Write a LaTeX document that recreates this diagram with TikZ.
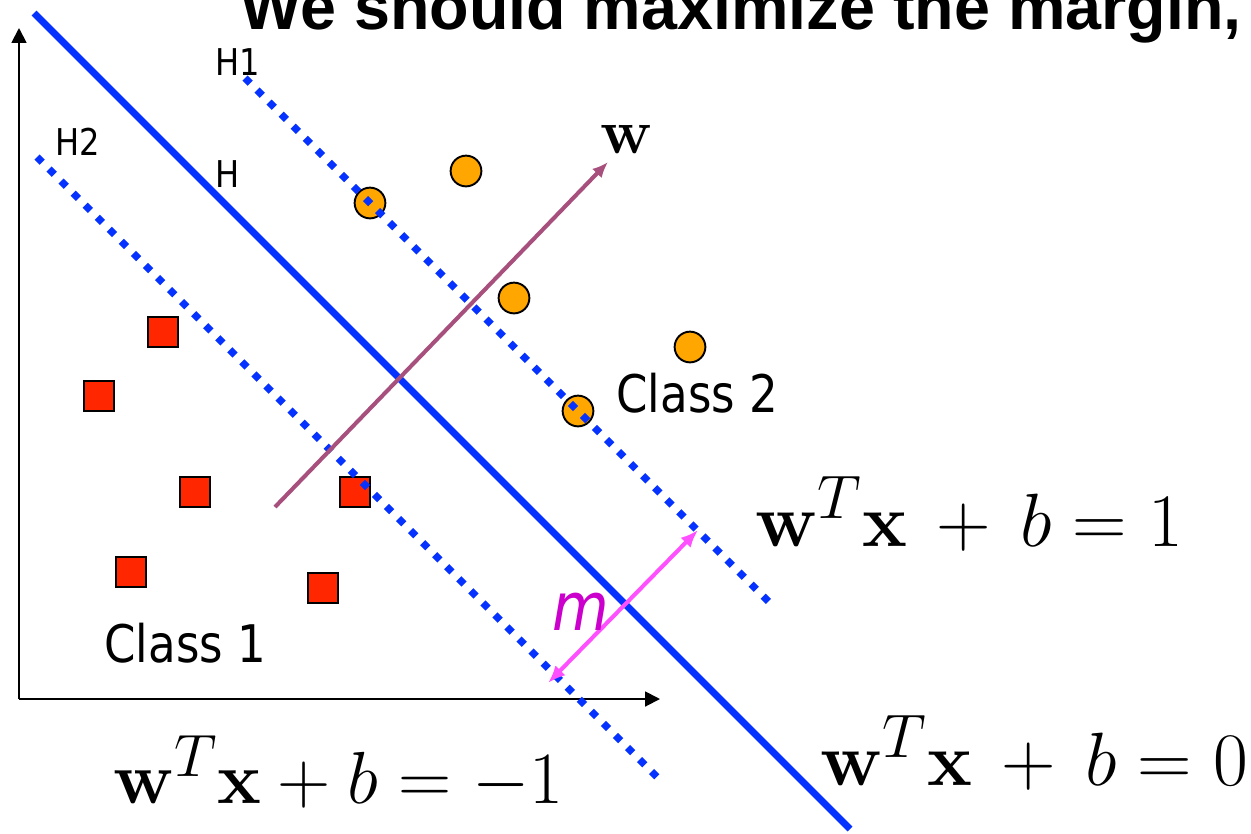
\RequirePackage{fix-cm}
\documentclass[tikz,border=0pt]{standalone}
\usepackage[no-math]{fontspec}
\setmainfont{DejaVu Sans}[FakeStretch=0.87]
\newfontfamily\titlefont{Liberation Sans}
\usetikzlibrary{arrows.meta}
\DeclareMathSizes{42}{42}{34}{24}
\DeclareMathSizes{43}{43}{35}{25}

\definecolor{hblue}{RGB}{5,50,255}
\definecolor{wpurple}{RGB}{168,80,125}
\definecolor{mpink}{RGB}{255,80,255}
\definecolor{mlabel}{RGB}{204,0,204}
\definecolor{corange}{RGB}{255,166,0}
\definecolor{sred}{RGB}{255,38,0}

\tikzset{
  lbl/.style={anchor=base west,inner sep=0pt},
  classtwo/.style={circle,draw=black,line width=1.1pt,fill=corange,minimum size=17.5pt,inner sep=0pt},
  classone/.style={rectangle,draw=black,line width=1.1pt,fill=sred,minimum size=17pt,inner sep=0pt},
  dotline/.style={hblue,line width=4.2pt,dash pattern=on 4.2pt off 5.5pt}
}

\begin{document}
\begin{tikzpicture}[x=0.02cm,y=-0.02cm]
\useasboundingbox (0,0) rectangle (1251,833);
\clip (0,0) rectangle (1251,833);

% title (cut at the top)
\node[lbl] (title) at (240,29) {\titlefont\bfseries\fontsize{36.8}{40}\selectfont We should maximize the margin,};

% axes
\coordinate (o) at (19,699);
\coordinate (xend) at (660,699);
\coordinate (yend) at (19,28);
\draw[line width=1.1pt,-{Triangle[length=8.5pt,width=8.5pt]}] (o) -- (xend);
\draw[line width=1.1pt,-{Triangle[length=8.5pt,width=8.5pt]}] (o) -- (yend);

% class 1 squares
\foreach \x/\y [count=\i] in {163/332,99/396,195/492,355/492,131/572,323/588}{
    \node[classone] (s\i) at (\x,\y) {};
}

% class 2 circles
\foreach \x/\y [count=\i] in {370/203,466/171,514/298,690/347,578/411}{
    \node[classtwo] (c\i) at (\x,\y) {};
}

% hyperplanes
\coordinate (h1a) at (245,78);
\coordinate (h1b) at (770,603);
\coordinate (h2a) at (37,157);
\coordinate (h2b) at (660,780);
\coordinate (ha) at (34,13);
\coordinate (hb) at (850,829);
\draw[dotline] (h1a) -- (h1b);
\draw[dotline] (h2a) -- (h2b);
\draw[hblue,line width=3.9pt] (ha) -- (hb);

% normal vector w
\coordinate (w0) at (275,507);
\coordinate (w1) at (608,162);
\draw[wpurple,line width=2.3pt,-{Latex[length=9pt,width=7.5pt]}] (w0) -- (w1);

% margin m
\coordinate (m0) at (548,683);
\coordinate (m1) at (698,530);
\draw[mpink,line width=2.3pt,{Latex[length=10pt,width=8pt]}-{Latex[length=10pt,width=8pt]}] (m0) -- (m1);

% labels
\node[lbl] (lh1) at (215,75) {\fontsize{21}{25}\selectfont H1};
\node[lbl] (lh2) at (55,155) {\fontsize{21}{25}\selectfont H2};
\node[lbl] (lh) at (215,187) {\fontsize{21}{25}\selectfont H};
\node[lbl] (cl2) at (616,412) {\fontsize{29.5}{34}\selectfont Class 2};
\node[lbl] (cl1) at (104,662) {\fontsize{29.5}{34}\selectfont Class 1};
\node[lbl,mlabel] (lm) at (552,630) {\fontsize{38}{42}\selectfont\itshape m};
\node[lbl] (lw) at (600,153) {\fontsize{36}{40}\selectfont $\mathbf{w}$};

% equations
\node[lbl] (eq1) at (755,546) {\fontsize{43}{48}\selectfont $\mathbf{w}^T\mathbf{x}\,+\,b=1$};
\node[lbl] (eq0) at (820,785) {\fontsize{43}{48}\selectfont $\mathbf{w}^T\mathbf{x}\,+\,b=0$};
\node[lbl] (eqm) at (113,803) {\fontsize{42}{48}\selectfont $\mathbf{w}^T\mathbf{x}+b=-1$};

\end{tikzpicture}
\end{document}
